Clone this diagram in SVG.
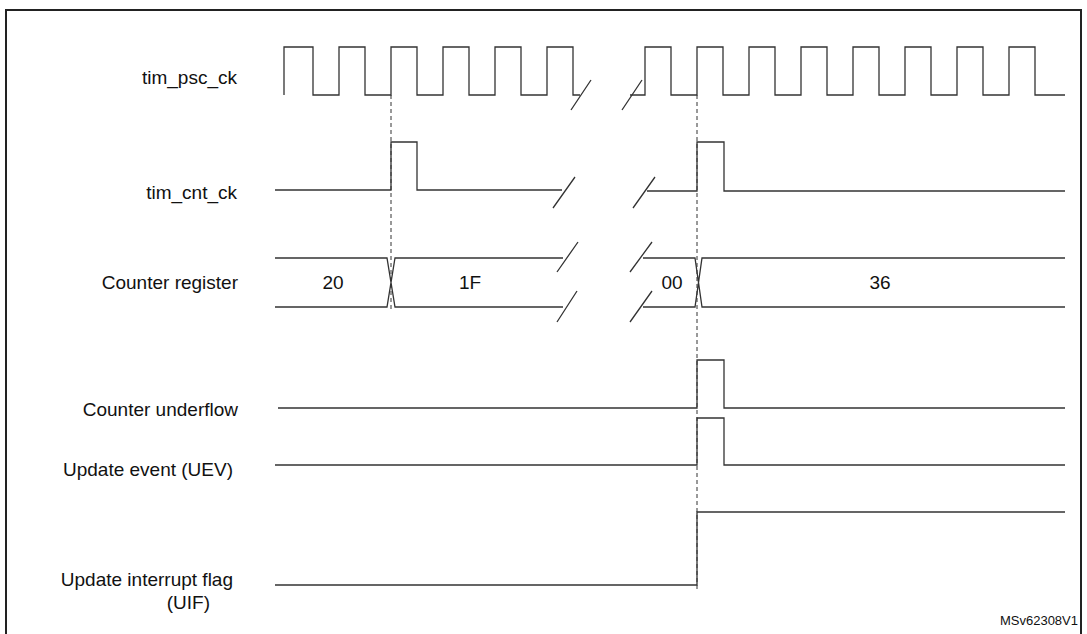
<svg xmlns="http://www.w3.org/2000/svg" width="1087" height="634" viewBox="0 0 1087 634">
<style>
.w{fill:none;stroke:#333;stroke-width:1.3}
.d{fill:none;stroke:#333;stroke-width:1;stroke-dasharray:4,3}
text{font-family:"Liberation Sans",Arial,sans-serif;font-size:19px;fill:#111}
.l{text-anchor:end}
.c{text-anchor:middle}
</style>
<rect width="1087" height="634" fill="#fff"/>
<rect x="6" y="10" width="1075" height="630" fill="none" stroke="#222" stroke-width="2"/>
<g id="labels">
<text class="l" x="237" y="84">tim_psc_ck</text>
<text class="l" x="237" y="199">tim_cnt_ck</text>
<text class="l" x="238" y="289">Counter register</text>
<text class="l" x="238" y="416">Counter underflow</text>
<text class="l" x="233" y="476">Update event (UEV)</text>
<text class="l" x="233" y="586">Update interrupt flag</text>
<text class="l" x="210" y="609">(UIF)</text>
<text class="l" x="1078" y="625" style="font-size:13px">MSv62308V1</text>
</g>
<g id="connectors">
<path class="d" d="M391 95V312M697 95V592"/>
</g>
<g id="tim_psc_ck">
<path class="w" d="M284 95V47H313V95H339V47H365V95H391V47H417V95H443V47H469V95H495V47H521V95H547V47H573V95H580"/>
<path class="w" d="M571 110L591 80M622 110L642 80"/>
<path class="w" d="M630 95H645V47H671V95H697V47H723V95H749V47H775V95H801V47H827V95H853V47H879V95H905V47H931V95H957V47H983V95H1009V47H1035V95H1065"/>
</g>
<g id="tim_cnt_ck">
<path class="w" d="M275 190H391V142H417V190H562"/>
<path class="w" d="M553 208L575 177M633 208L655 177"/>
<path class="w" d="M647 191H697V142H724V191H1065"/>
</g>
<g id="counter_register">
<path class="w" d="M275 258H387L395 307H563M275 307H387L395 258H563"/>
<path class="w" d="M557 272L578 242M557 322L577 291M630 272L652 242M630 322L652 291"/>
<path class="w" d="M643 258H695L702 307H1065M643 307H695L702 258H1065"/>
<text class="c" x="333" y="289">20</text>
<text class="c" x="470" y="289">1F</text>
<text class="c" x="672" y="289">00</text>
<text class="c" x="880" y="289">36</text>
</g>
<g id="counter_underflow"><path class="w" d="M278 408H697V360H724V408H1065"/></g>
<g id="update_event"><path class="w" d="M275 465H697V418H724V465H1065"/></g>
<g id="uif"><path class="w" d="M275 585H697V512H1065"/></g>
</svg>
